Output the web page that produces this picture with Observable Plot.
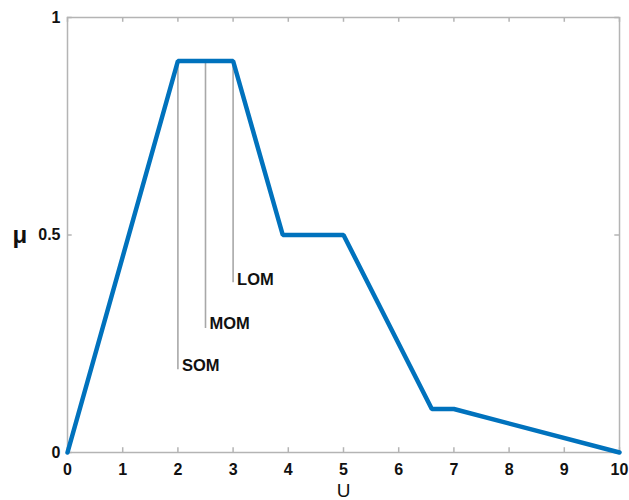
<!DOCTYPE html>
<html>
<head>
<meta charset="utf-8">
<script src="https://cdn.jsdelivr.net/npm/d3@7"></script>
<script src="https://cdn.jsdelivr.net/npm/@observablehq/plot@0.6"></script>
<style>
  html, body { margin: 0; padding: 0; background: #fff; }
  #chart { width: 629px; height: 500px; }
</style>
</head>
<body>
<div id="chart"></div>
<script>
// membership function points
const uValues = [0, 2, 3, 3.9, 5, 6.6, 7, 10];
const muValues = [0, 0.9, 0.9, 0.5, 0.5, 0.1, 0.1, 0];
// defuzzification markers
const markerNames = ["SOM", "MOM", "LOM"];
const markerU = [2, 2.5, 3];
const markerTop = [0.9, 0.9, 0.9];
const markerBottom = [0.19, 0.285, 0.39];
const markerLabelMu = [0.2, 0.296, 0.397];
// ticks
const xTicks = [0, 1, 2, 3, 4, 5, 6, 7, 8, 9, 10];
const yTicks = [0, 0.5, 1];
const yTickLabels = ["0", "0.5", "1"];

const curve = uValues.map((u, i) => ({u, mu: muValues[i]}));
const markers = markerNames.map((name, i) => ({name, u: markerU[i], top: markerTop[i], bottom: markerBottom[i], lab: markerLabelMu[i]}));

const font = "'Liberation Sans', Arial, sans-serif";
const frameColor = "#b4b4b4";

const chart = Plot.plot({
  width: 629,
  height: 500,
  marginLeft: 67,
  marginRight: 10,
  marginTop: 17,
  marginBottom: 48,
  style: {fontFamily: font, background: "#fff", overflow: "hidden"},
  x: {domain: [0, 10]},
  y: {domain: [0, 1]},
  marks: [
    Plot.frame({stroke: frameColor, strokeWidth: 1.5}),
    // inward ticks
    Plot.ruleX(xTicks, {x: d => d, y1: 0, y2: 0.011, stroke: frameColor, strokeWidth: 1.5}),
    Plot.ruleX(xTicks, {x: d => d, y1: 0.989, y2: 1, stroke: frameColor, strokeWidth: 1.5}),
    Plot.ruleY(yTicks, {y: d => d, x1: 0, x2: 0.085, stroke: frameColor, strokeWidth: 1.5}),
    Plot.ruleY(yTicks, {y: d => d, x1: 9.915, x2: 10, stroke: frameColor, strokeWidth: 1.5}),
    Plot.axisX({ticks: xTicks, tickSize: 0, tickPadding: 11, fontSize: 16, fontWeight: "bold", fill: "#111", label: null}),
    Plot.axisY({ticks: yTicks, tickFormat: (d, i) => yTickLabels[i], tickSize: 0, tickPadding: 7, fontSize: 16, fontWeight: "bold", fill: "#111", label: null}),
    // marker lines
    Plot.ruleX(markers, {x: "u", y1: "bottom", y2: "top", stroke: "#a8a8a8", strokeWidth: 1.6}),
    Plot.text(markers, {x: "u", y: "lab", text: "name", textAnchor: "start", dx: 4, fontSize: 16.5, fontWeight: "bold", fill: "#111"}),
    // curve
    Plot.line(curve, {x: "u", y: "mu", stroke: "#0072BD", strokeWidth: 4.5, strokeLinejoin: "miter"}),
    // axis titles
    Plot.text(["μ"], {frameAnchor: "left", dx: -55, text: d => d, fontSize: 24, fontWeight: "bold", fill: "#111"}),
    Plot.text(["U"], {frameAnchor: "bottom", dy: 44, text: d => d, fontSize: 19, fill: "#111"})
  ]
});
document.getElementById("chart").appendChild(chart);
</script>
</body>
</html>
